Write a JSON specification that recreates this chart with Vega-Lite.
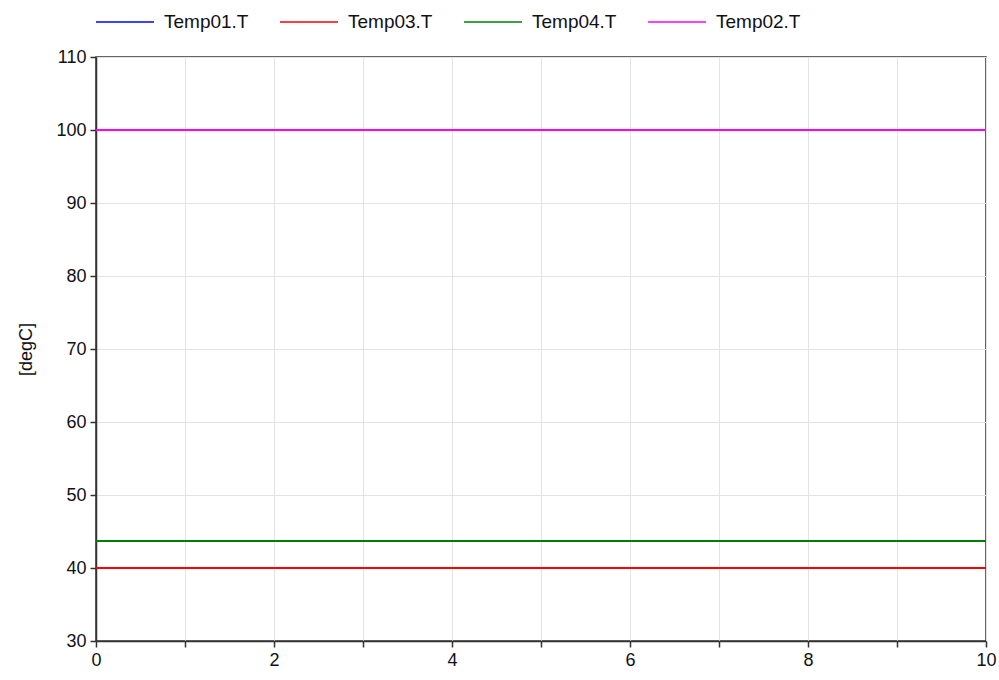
{
  "$schema": "https://vega.github.io/schema/vega-lite/v6.json",
  "width": 890,
  "height": 584,
  "autosize": "none",
  "padding": {"left": 96, "top": 57, "right": 13, "bottom": 39},
  "background": "white",
  "config": {
    "font": "Liberation Sans",
    "view": {"stroke": "#333333", "strokeWidth": 1.5}
  },
  "data": {
    "values": [
      {"t": 0, "v": 40, "s": "Temp01.T"},
      {"t": 10, "v": 40, "s": "Temp01.T"},
      {"t": 0, "v": 40, "s": "Temp03.T"},
      {"t": 10, "v": 40, "s": "Temp03.T"},
      {"t": 0, "v": 43.7, "s": "Temp04.T"},
      {"t": 10, "v": 43.7, "s": "Temp04.T"},
      {"t": 0, "v": 100, "s": "Temp02.T"},
      {"t": 10, "v": 100, "s": "Temp02.T"}
    ]
  },
  "mark": {"type": "line", "strokeWidth": 2},
  "encoding": {
    "x": {
      "field": "t",
      "type": "quantitative",
      "scale": {"domain": [0, 10], "nice": false, "zero": false},
      "axis": {
        "title": null,
        "values": [0, 1, 2, 3, 4, 5, 6, 7, 8, 9, 10],
        "labelExpr": "datum.value % 2 == 0 ? datum.label : ''",
        "labelFont": "Liberation Sans",
        "labelFontSize": 18,
        "labelColor": "#111111",
        "labelPadding": 4,
        "tickSize": 6,
        "tickColor": "#333333",
        "tickWidth": 1.5,
        "domainColor": "#333333",
        "domainWidth": 1.5,
        "gridColor": "#e3e3e3",
        "gridWidth": 1,
        "labelFlush": false
      }
    },
    "y": {
      "field": "v",
      "type": "quantitative",
      "scale": {"domain": [30, 110], "nice": false, "zero": false},
      "axis": {
        "title": "[degC]",
        "titleFont": "Liberation Sans",
        "titleFontSize": 18,
        "titleFontWeight": "normal",
        "titleColor": "#111111",
        "titlePadding": 20,
        "values": [30, 40, 50, 60, 70, 80, 90, 100, 110],
        "labelFont": "Liberation Sans",
        "labelFontSize": 18,
        "labelColor": "#111111",
        "labelPadding": 4,
        "tickSize": 6,
        "tickColor": "#333333",
        "tickWidth": 1.5,
        "domainColor": "#333333",
        "domainWidth": 1.5,
        "gridColor": "#e3e3e3",
        "gridWidth": 1
      }
    },
    "color": {
      "field": "s",
      "type": "nominal",
      "scale": {
        "domain": ["Temp01.T", "Temp03.T", "Temp04.T", "Temp02.T"],
        "range": ["#0000ff", "#ff0000", "#008000", "#ff00ff"]
      },
      "legend": {
        "title": null,
        "orient": "none",
        "direction": "horizontal",
        "legendX": -1,
        "legendY": -65,
        "symbolType": "stroke",
        "symbolSize": 3364,
        "symbolStrokeWidth": 1.5,
        "labelFont": "Liberation Sans",
        "labelFontSize": 19,
        "labelColor": "#111111",
        "labelOffset": 9,
        "labelLimit": 200,
        "columnPadding": 28
      }
    },
    "order": {"field": "s", "sort": "ascending"}
  }
}
